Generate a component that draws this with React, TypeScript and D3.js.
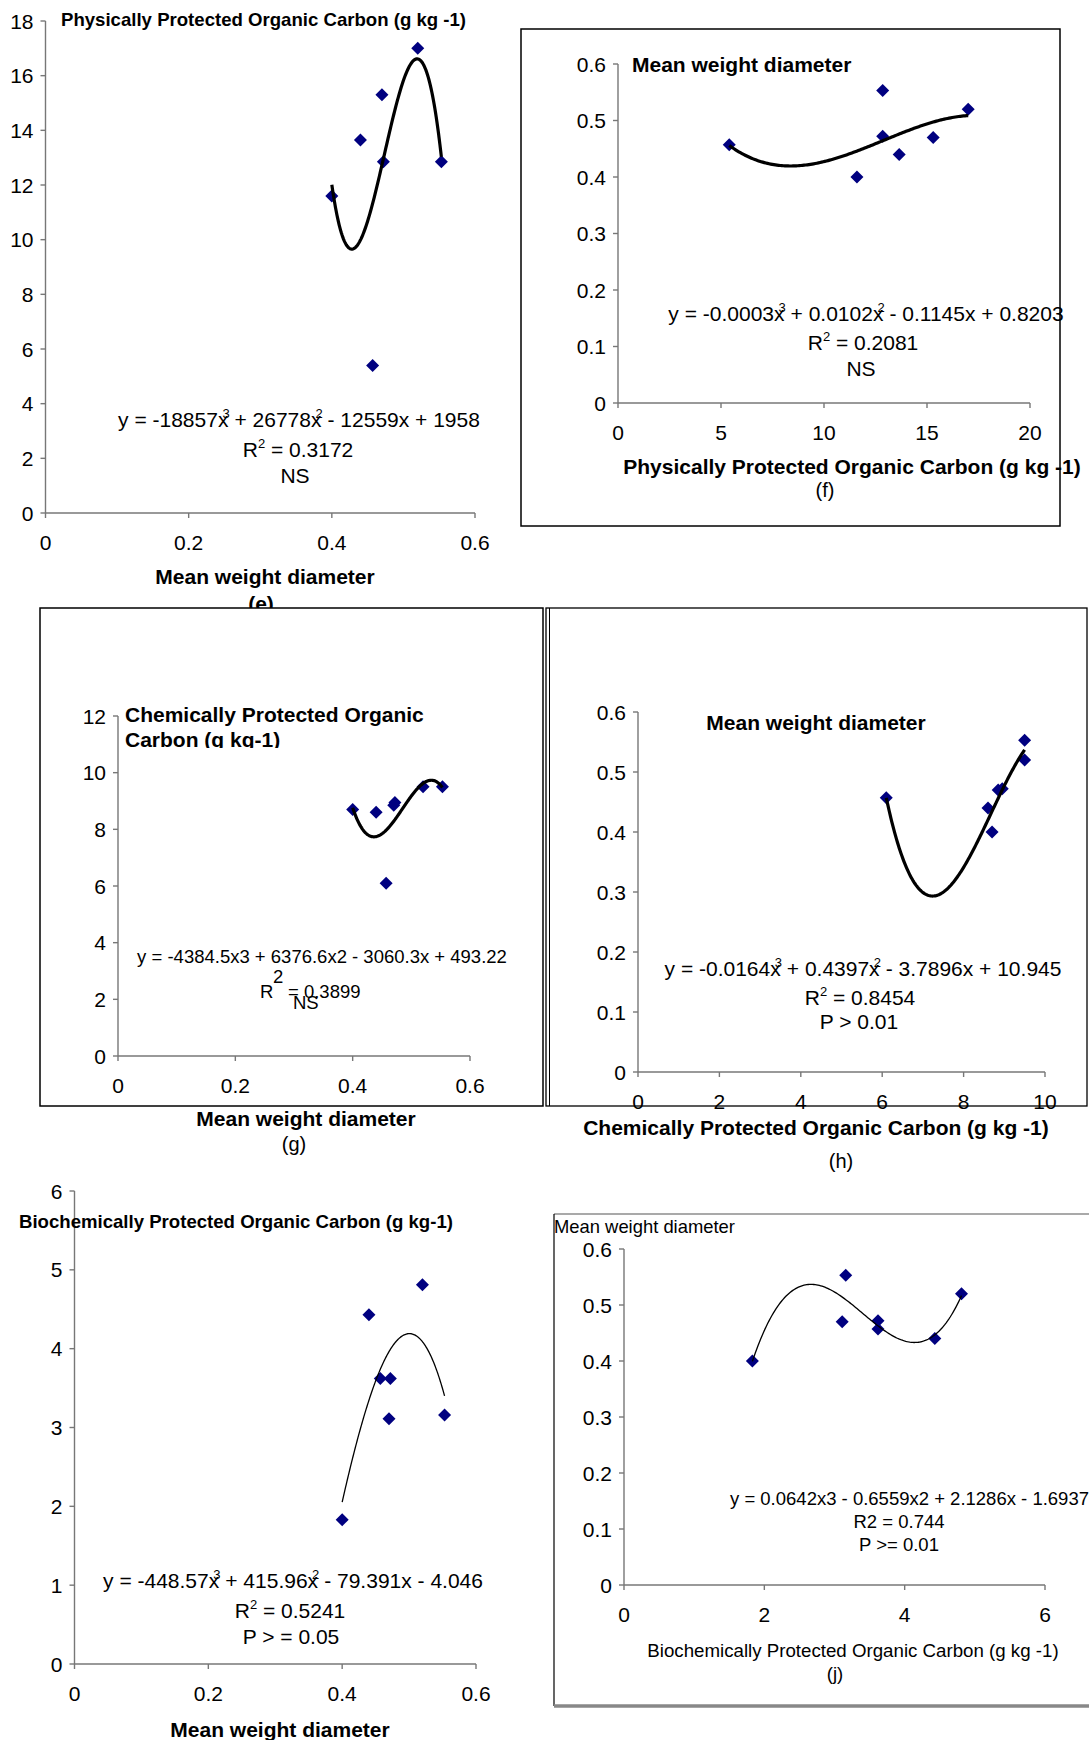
import React from "react";
import * as d3 from "d3";

const FONT = "'Liberation Sans', Arial, Helvetica, sans-serif";

// seven soil samples
const mwd = [0.4, 0.44, 0.457, 0.47, 0.472, 0.52, 0.553];
const ppoc = [11.6, 13.65, 5.4, 15.3, 12.85, 17.0, 12.85];
const cpoc = [8.7, 8.6, 6.1, 8.85, 8.95, 9.5, 9.5];
const bpoc = [1.83, 4.43, 3.62, 3.11, 3.62, 4.81, 3.16];

const mwdTicksX = [0, 0.2, 0.4, 0.6];
const mwdTicksY = [0, 0.1, 0.2, 0.3, 0.4, 0.5, 0.6];
const ppocTicksY = [0, 2, 4, 6, 8, 10, 12, 14, 16, 18];
const ppocTicksX = [0, 5, 10, 15, 20];
const cpocTicksY = [0, 2, 4, 6, 8, 10, 12];
const cpocTicksX = [0, 2, 4, 6, 8, 10];
const bpocTicksY = [0, 1, 2, 3, 4, 5, 6];
const bpocTicksX = [0, 2, 4, 6];

// least squares cubic, x centred/scaled for stability (same as excel trendline)
function cubicFit(xs: number[], ys: number[]) {
  const m = d3.mean(xs) as number;
  const s = (d3.deviation(xs) as number) || 1;
  const n = 4;
  const A = Array.from({ length: n }, () => new Array(n + 1).fill(0));
  xs.forEach((x, k) => {
    const u = (x - m) / s;
    for (let i = 0; i < n; i++) {
      for (let j = 0; j < n; j++) A[i][j] += Math.pow(u, i + j);
      A[i][n] += ys[k] * Math.pow(u, i);
    }
  });
  for (let c = 0; c < n; c++) {
    let p = c;
    for (let r = c + 1; r < n; r++) if (Math.abs(A[r][c]) > Math.abs(A[p][c])) p = r;
    [A[c], A[p]] = [A[p], A[c]];
    for (let r = 0; r < n; r++) {
      if (r === c) continue;
      const f = A[r][c] / A[c][c];
      for (let k = c; k <= n; k++) A[r][k] -= f * A[c][k];
    }
  }
  const coef = A.map((row, i) => row[n] / row[i]);
  return (x: number) => {
    const u = (x - m) / s;
    return coef[0] + coef[1] * u + coef[2] * u * u + coef[3] * u * u * u;
  };
}

const fmt = d3.format("~g");

function Scatter({ xs, ys, xDomain, yDomain, xRange, yRange, xTicks, yTicks, lineW }) {
  const x = d3.scaleLinear().domain(xDomain).range(xRange);
  const y = d3.scaleLinear().domain(yDomain).range(yRange);
  const f = cubicFit(xs, ys);
  const [lo, hi] = d3.extent(xs) as [number, number];
  const pts = d3.range(0, 151).map((i) => lo + ((hi - lo) * i) / 150);
  const line = d3.line<number>().x((d) => x(d)).y((d) => y(f(d)));
  const ax = "#777";
  return (
    <g>
      <line x1={x(xDomain[0])} x2={x(xDomain[0])} y1={y(yDomain[0])} y2={y(yDomain[1])} stroke={ax} strokeWidth={1.4} />
      <line x1={x(xDomain[0])} x2={x(xDomain[1])} y1={y(yDomain[0])} y2={y(yDomain[0])} stroke={ax} strokeWidth={1.4} />
      {yTicks.map((t) => (
        <g key={"y" + t}>
          <line x1={x(xDomain[0]) - 5} x2={x(xDomain[0])} y1={y(t)} y2={y(t)} stroke={ax} strokeWidth={1.4} />
          <text x={x(xDomain[0]) - 12} y={y(t) + 7.5} textAnchor="end" fontSize={21}>{fmt(t)}</text>
        </g>
      ))}
      {xTicks.map((t) => (
        <g key={"x" + t}>
          <line x1={x(t)} x2={x(t)} y1={y(yDomain[0])} y2={y(yDomain[0]) + 5} stroke={ax} strokeWidth={1.4} />
          <text x={x(t)} y={y(yDomain[0]) + 37} textAnchor="middle" fontSize={21}>{fmt(t)}</text>
        </g>
      ))}
      {xs.map((d, i) => (
        <path key={"p" + i} d={`M${x(d)},${y(ys[i]) - 6.5}l6.5,6.5l-6.5,6.5l-6.5,-6.5z`} fill="#000080" />
      ))}
      <path d={line(pts) || ""} fill="none" stroke="#000" strokeWidth={lineW} />
    </g>
  );
}

// equation text: odd entries are exponents sitting over the preceding x
function Eq({ x, y, parts, fs = 21 }) {
  return (
    <text x={x} y={y} textAnchor="middle" fontSize={fs}>
      {parts.map((p, i) =>
        i % 2 === 1 ? (
          <tspan key={i} dx={-6} dy={-9} fontSize={13}>{p}</tspan>
        ) : (
          <tspan key={i} dx={i ? -1 : 0} dy={i ? 9 : 0}>{p}</tspan>
        )
      )}
    </text>
  );
}

function R2({ x, y, val }) {
  return (
    <text x={x} y={y} textAnchor="middle" fontSize={21}>
      <tspan>R</tspan>
      <tspan dy={-9} fontSize={13}>2</tspan>
      <tspan dy={9}>{" = " + val}</tspan>
    </text>
  );
}

export default function App() {
  return (
    <svg width={1089} height={1740} style={{ position: "absolute", left: 0, top: 0, display: "block", background: "#fff" }} fontFamily={FONT}>
      <rect width={1089} height={1740} fill="#fff" />

      {/* (e) */}
      <Scatter xs={mwd} ys={ppoc} xDomain={[0, 0.6]} yDomain={[0, 18]} xRange={[45.5, 475]} yRange={[513, 21]} xTicks={mwdTicksX} yTicks={ppocTicksY} lineW={3.2} />
      <text x={61} y={26} fontSize={18.6} fontWeight="bold">Physically Protected Organic Carbon (g kg -1)</text>
      <Eq x={299} y={427} parts={["y = -18857x", "3", " + 26778x", "2", " - 12559x + 1958"]} />
      <R2 x={298} y={457} val="0.3172" />
      <text x={295} y={483} textAnchor="middle" fontSize={21}>NS</text>
      <text x={265} y={584} textAnchor="middle" fontSize={21} fontWeight="bold">Mean weight diameter</text>
      <text x={261} y={611} textAnchor="middle" fontSize={21} fontWeight="bold">(e)</text>

      {/* (f) */}
      <rect x={521} y={29} width={539} height={497} fill="#fff" stroke="#000" strokeWidth={1.5} />
      <Scatter xs={ppoc} ys={mwd} xDomain={[0, 20]} yDomain={[0, 0.6]} xRange={[618, 1030]} yRange={[403, 64]} xTicks={ppocTicksX} yTicks={mwdTicksY} lineW={3.2} />
      <text x={632} y={72} fontSize={21} fontWeight="bold">Mean weight diameter</text>
      <Eq x={866} y={321} parts={["y = -0.0003x", "3", " + 0.0102x", "2", " - 0.1145x + 0.8203"]} />
      <R2 x={863} y={350} val="0.2081" />
      <text x={861} y={376} textAnchor="middle" fontSize={21}>NS</text>
      <text x={852} y={474} textAnchor="middle" fontSize={21} fontWeight="bold">Physically Protected Organic Carbon (g kg -1)</text>
      <text x={825} y={497} textAnchor="middle" fontSize={20}>(f)</text>

      {/* (g) */}
      <rect x={40} y={608} width={503} height={498} fill="#fff" stroke="#000" strokeWidth={1.5} />
      <Scatter xs={mwd} ys={cpoc} xDomain={[0, 0.6]} yDomain={[0, 12]} xRange={[118, 470]} yRange={[1056, 716]} xTicks={mwdTicksX} yTicks={cpocTicksY} lineW={3.2} />
      <clipPath id="gclip"><rect x={100} y={690} width={420} height={58} /></clipPath>
      <g clipPath="url(#gclip)" fontSize={21} fontWeight="bold">
        <text x={125} y={722}>Chemically Protected Organic</text>
        <text x={125} y={747}>Carbon (g kg-1)</text>
      </g>
      <text x={322} y={963} textAnchor="middle" fontSize={18.5}>y = -4384.5x3 + 6376.6x2 - 3060.3x + 493.22</text>
      <g fontSize={18.5}>
        <text x={260} y={998}>R</text>
        <text x={273} y={983}>2</text>
        <text x={288} y={998}>= 0.3899</text>
        <text x={293} y={1009}>NS</text>
      </g>
      <text x={306} y={1126} textAnchor="middle" fontSize={21} fontWeight="bold">Mean weight diameter</text>
      <text x={294} y={1151} textAnchor="middle" fontSize={20}>(g)</text>

      {/* (h) */}
      <rect x={546} y={608} width={541} height={498} fill="#fff" stroke="#000" strokeWidth={1.3} />
      <line x1={549.5} x2={549.5} y1={608} y2={1106} stroke="#000" strokeWidth={1} />
      <Scatter xs={cpoc} ys={mwd} xDomain={[0, 10]} yDomain={[0, 0.6]} xRange={[638, 1045]} yRange={[1072, 712]} xTicks={cpocTicksX} yTicks={mwdTicksY} lineW={3.2} />
      <text x={816} y={730} textAnchor="middle" fontSize={21} fontWeight="bold">Mean weight diameter</text>
      <Eq x={863} y={976} parts={["y = -0.0164x", "3", " + 0.4397x", "2", " - 3.7896x + 10.945"]} />
      <R2 x={860} y={1005} val="0.8454" />
      <text x={859} y={1029} textAnchor="middle" fontSize={21}>{"P > 0.01"}</text>
      <text x={816} y={1135} textAnchor="middle" fontSize={21} fontWeight="bold">Chemically Protected Organic Carbon (g kg -1)</text>
      <text x={841} y={1168} textAnchor="middle" fontSize={20}>(h)</text>

      {/* (i) */}
      <Scatter xs={mwd} ys={bpoc} xDomain={[0, 0.6]} yDomain={[0, 6]} xRange={[74.5, 476]} yRange={[1664, 1191]} xTicks={mwdTicksX} yTicks={bpocTicksY} lineW={1.3} />
      <text x={19} y={1228} fontSize={18.6} fontWeight="bold">Biochemically Protected Organic Carbon (g kg-1)</text>
      <Eq x={293} y={1588} parts={["y = -448.57x", "3", " + 415.96x", "2", " - 79.391x - 4.046"]} />
      <R2 x={290} y={1618} val="0.5241" />
      <text x={291} y={1644} textAnchor="middle" fontSize={21}>{"P > = 0.05"}</text>
      <text x={280} y={1737} textAnchor="middle" fontSize={21} fontWeight="bold">Mean weight diameter</text>

      {/* (j) */}
      <line x1={554} x2={1089} y1={1214} y2={1214} stroke="#555" strokeWidth={1.2} />
      <line x1={554} x2={554} y1={1214} y2={1706} stroke="#000" strokeWidth={1.2} />
      <line x1={554} x2={1089} y1={1706} y2={1706} stroke="#888" strokeWidth={3.5} />
      <Scatter xs={bpoc} ys={mwd} xDomain={[0, 6]} yDomain={[0, 0.6]} xRange={[624, 1045]} yRange={[1585, 1249]} xTicks={bpocTicksX} yTicks={mwdTicksY} lineW={1.3} />
      <text x={554} y={1233} fontSize={18.4}>Mean weight diameter</text>
      <text x={730} y={1505} fontSize={18.5}>y = 0.0642x3 - 0.6559x2 + 2.1286x - 1.6937</text>
      <text x={899} y={1528} textAnchor="middle" fontSize={18.5}>R2 = 0.744</text>
      <text x={899} y={1551} textAnchor="middle" fontSize={18.5}>{"P >= 0.01"}</text>
      <text x={853} y={1657} textAnchor="middle" fontSize={18.7}>Biochemically Protected Organic Carbon (g kg -1)</text>
      <text x={835} y={1680} textAnchor="middle" fontSize={18.5}>(j)</text>
    </svg>
  );
}
